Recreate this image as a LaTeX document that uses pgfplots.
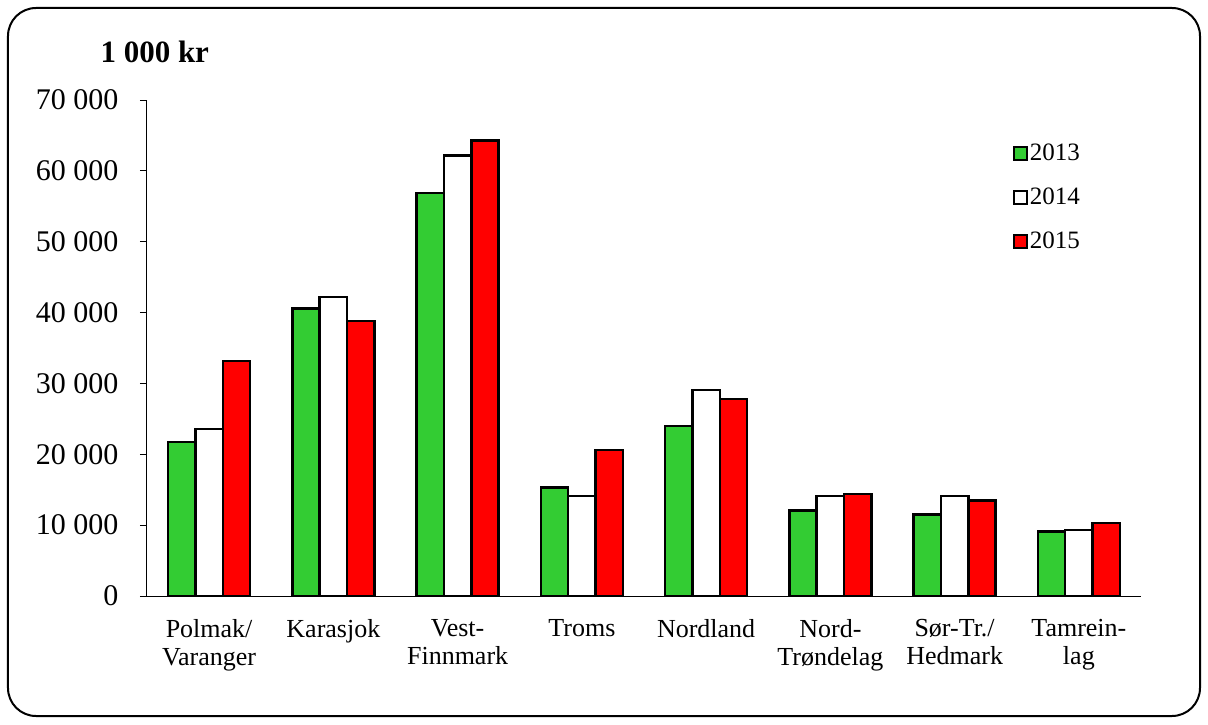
\documentclass[border=0pt]{standalone}
\usepackage{pgfplots}
\pgfplotsset{compat=1.18}
\usepackage{fontspec}
\setmainfont{Liberation Serif}
\definecolor{bargreen}{RGB}{51,204,51}
\definecolor{barred}{RGB}{255,0,0}
\begin{document}
\begin{tikzpicture}
\useasboundingbox (-147pt,-128pt) rectangle (1061pt,596pt);
\draw[line width=2pt, rounded corners=28pt] (-139pt,-120pt) rectangle (1053pt,588pt);
\node[anchor=base west, font=\fontsize{31}{36}\selectfont\bfseries] at (-50pt,533pt) {1 000 kr};
\begin{axis}[
    at={(0pt,0pt)}, anchor=origin,
    scale only axis,
    width=994pt, height=496pt,
    ybar=0pt, bar width=27.3pt,
    xmin=0.5, xmax=8.5,
    ymin=0, ymax=70000,
    scaled ticks=false,
    axis lines=left,
    axis line style={-, line width=1pt},
    tick align=outside,
    major tick length=7pt,
    tick style={line width=1pt, black},
    ytick={0,10000,...,70000},
    yticklabels={0,10 000,20 000,30 000,40 000,50 000,60 000,70 000},
    yticklabel style={font=\fontsize{30}{35}\selectfont, xshift=-18pt},
    xtick={1,...,8},
    xticklabels={Polmak/\\Varanger,Karasjok,Vest-\\Finnmark,Troms,Nordland,Nord-\\Trøndelag,Sør-Tr./\\Hedmark,Tamrein-\\lag},
    xticklabel style={font=\fontsize{26}{28}\selectfont, align=center, anchor=north, yshift=-13pt},
    x tick style={draw=none},
    extra x ticks={0.5,1.5,...,8.5},
    extra x tick labels={},
    extra x tick style={tick style={draw=black, line width=1pt}},
    legend cell align=left,
    legend style={draw=none, at={(0.868,0.92)}, anchor=north west,
        font=\fontsize{25}{28}\selectfont, row sep=22pt,
        /tikz/every even column/.append style={column sep=4pt}},
    legend image code/.code={\draw[#1, line width=2pt] (0pt,-7pt) rectangle (13pt,6pt);},
    every axis plot/.append style={draw=black, line width=2.5pt},
]
\addplot[fill=bargreen] coordinates {(1,21700) (2,40600) (3,56900) (4,15300) (5,24000) (6,12100) (7,11500) (8,9100)};
\addplot[fill=white] coordinates {(1,23600) (2,42200) (3,62200) (4,14100) (5,29100) (6,14100) (7,14100) (8,9300)};
\addplot[fill=barred] coordinates {(1,33200) (2,38800) (3,64300) (4,20600) (5,27800) (6,14400) (7,13500) (8,10300)};
\legend{2013,2014,2015}
\end{axis}
\end{tikzpicture}
\end{document}
